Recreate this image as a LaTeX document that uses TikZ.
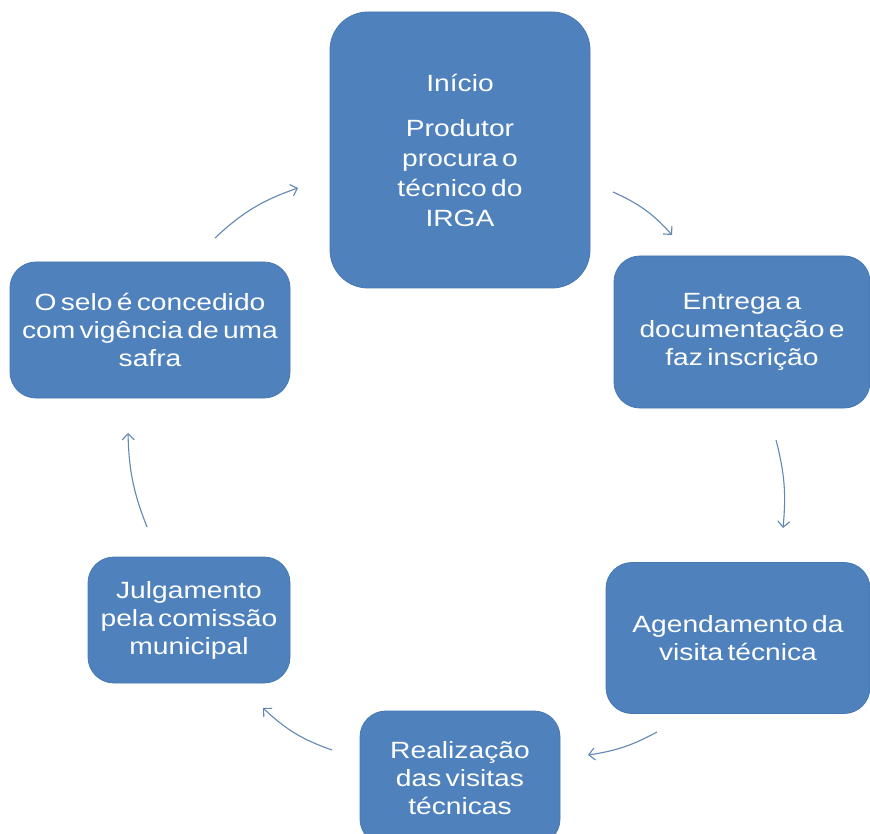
\documentclass[tikz,border=0pt]{standalone}
\usepackage{fontspec}
\setmainfont[FakeStretch=1.2,WordSpace=0.55]{Liberation Sans}
\usetikzlibrary{arrows.meta}
\definecolor{boxblue}{HTML}{4F81BD}
\definecolor{boxedge}{HTML}{4677B2}
\definecolor{arrowc}{HTML}{6188B4}
\tikzset{
  stepbox/.style={fill=boxblue, draw=boxedge, line width=0.8pt, rounded corners=26pt,
    text=white, align=center, inner sep=0pt,
    font=\fontsize{23.5}{28}\selectfont},
  flowarrow/.style={draw=arrowc, line width=1.1pt,
    -{Straight Barb[length=6pt,width=12pt]}}
}
\begin{document}
\begin{tikzpicture}[x=1pt,y=-1pt]
\useasboundingbox (0,0) rectangle (870,834);
\fill[white] (0,0) rectangle (870,834);

\node[stepbox, rounded corners=38pt, minimum width=260pt, minimum height=276pt,
  font=\fontsize{23.5}{30}\selectfont] (inicio) at (460,150)
  {Início\\[15pt]Produtor\\procura o\\técnico do\\IRGA};
\node[stepbox, minimum width=256pt, minimum height=152pt] (entrega) at (742,332)
  {Entrega a\\documentação e\\faz inscrição};
\node[stepbox, minimum width=264pt, minimum height=151pt] (agenda) at (738,638)
  {Agendamento da\\visita técnica};
\node[stepbox, minimum width=200pt, minimum height=134pt] (realiza) at (460,778)
  {Realização\\das visitas\\técnicas};
\node[stepbox, minimum width=202pt, minimum height=126pt] (julga) at (189,620)
  {Julgamento\\pela comissão\\municipal};
\node[stepbox, minimum width=280pt, minimum height=136pt] (selo) at (150,330)
  {O selo é concedido\\com vigência de uma\\safra};

\coordinate (a1s) at (215,238); \coordinate (a1e) at (298,188);
\coordinate (a2s) at (613,192); \coordinate (a2e) at (672,235);
\coordinate (a3s) at (776,440); \coordinate (a3e) at (783,528);
\coordinate (a4s) at (657,732); \coordinate (a4e) at (588,755);
\coordinate (a5s) at (332,750); \coordinate (a5e) at (263,708);
\coordinate (a6s) at (147,527); \coordinate (a6e) at (128,433);

\draw[flowarrow] (a1s) to[bend left=12] (a1e);
\draw[flowarrow] (a2s) to[bend left=12] (a2e);
\draw[flowarrow] (a3s) to[bend left=10] (a3e);
\draw[flowarrow] (a4s) to[bend left=10] (a4e);
\draw[flowarrow] (a5s) to[bend left=12] (a5e);
\draw[flowarrow] (a6s) to[bend left=10] (a6e);
\end{tikzpicture}
\end{document}
